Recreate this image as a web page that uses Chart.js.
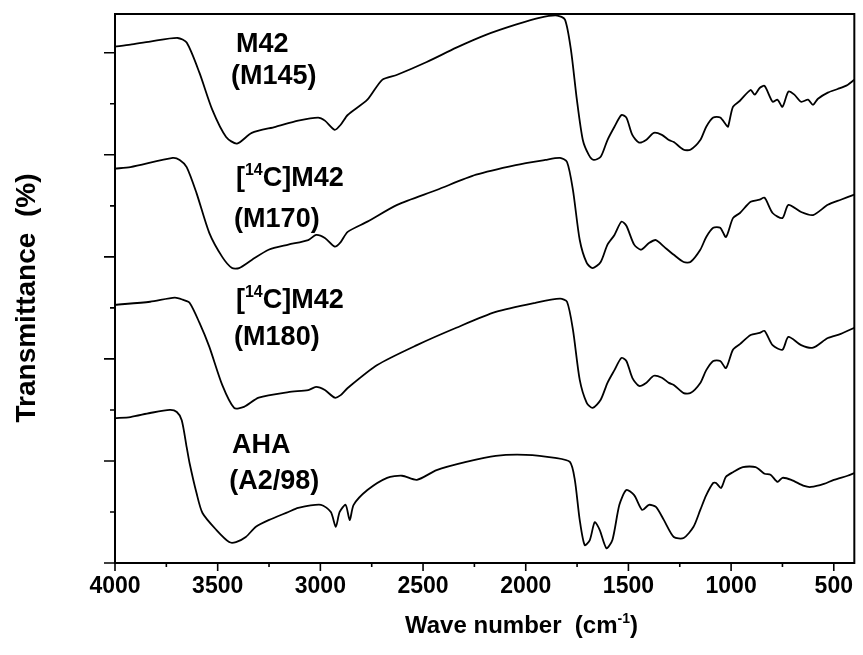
<!DOCTYPE html>
<html>
<head>
<meta charset="utf-8">
<script src="https://cdn.jsdelivr.net/npm/chart.js@4.4.1/dist/chart.umd.min.js"></script>
<style>
    html, body { margin: 0; padding: 0; background: #fff; }
    #wrap { width: 863px; height: 655px; }
</style>
</head>
<body>
<div id="wrap"><canvas id="irChart" width="863" height="655"></canvas></div>
<script>
// axis ticks
const xTickLabels = [4000, 3500, 3000, 2500, 2000, 1500, 1000, 500];
const xMinorTicks = [3750, 3250, 2750, 2250, 1750, 1250, 750];
const yMajorTicks = [0, 20, 40, 60, 80, 100];
const yMinorTicks = [10, 30, 50, 70, 90];

// M42 (M145)
const m145Wave = [4000, 3925, 3829, 3695, 3651, 3589, 3526, 3459, 3406, 3334, 3218, 3108, 3011, 2978, 2930, 2901, 2867, 2771, 2699, 2626, 2482, 2338, 2194, 2049, 1929, 1847, 1809, 1780, 1751, 1722, 1693, 1669, 1635, 1602, 1568, 1534, 1510, 1481, 1448, 1414, 1376, 1337, 1303, 1279, 1231, 1198, 1150, 1121, 1087, 1053, 1025, 1015, 991, 957, 905, 885, 861, 837, 798, 774, 750, 721, 692, 659, 625, 601, 577, 529, 481, 433, 400];
const m145T = [101.2, 101.6, 102.2, 102.9, 102.0, 96.1, 88.8, 83.5, 82.2, 84.3, 85.5, 86.7, 87.3, 86.7, 84.9, 85.9, 87.8, 90.8, 94.7, 95.7, 98.2, 101.0, 103.5, 105.5, 106.9, 107.3, 106.5, 100.6, 90.8, 82.9, 80.0, 79.0, 79.6, 82.9, 85.5, 87.8, 87.3, 83.9, 82.4, 82.9, 84.3, 83.9, 82.9, 82.5, 81.0, 81.0, 82.9, 85.5, 87.3, 87.3, 85.9, 85.5, 89.4, 90.6, 92.7, 91.8, 93.1, 93.5, 90.4, 90.8, 89.4, 92.4, 91.8, 90.4, 90.8, 89.8, 91.0, 92.2, 92.9, 93.7, 94.7];

// [14C]M42 (M170)
const m170Wave = [4000, 3925, 3719, 3685, 3651, 3603, 3541, 3478, 3430, 3396, 3334, 3252, 3156, 3059, 3021, 2978, 2930, 2901, 2867, 2771, 2626, 2434, 2242, 2049, 1905, 1833, 1799, 1770, 1737, 1703, 1674, 1635, 1602, 1568, 1534, 1510, 1472, 1438, 1400, 1366, 1327, 1279, 1231, 1198, 1150, 1121, 1087, 1053, 1025, 991, 957, 905, 861, 837, 798, 750, 721, 659, 601, 529, 466, 400];
const m170T = [77.3, 77.6, 79.4, 79.0, 77.6, 72.5, 64.7, 60.0, 57.8, 57.8, 59.4, 61.4, 62.4, 63.3, 64.3, 63.7, 62.0, 62.9, 64.9, 66.9, 70.2, 73.1, 76.1, 78.0, 79.0, 79.4, 78.6, 73.1, 63.3, 58.8, 57.8, 59.0, 62.4, 64.3, 66.9, 66.1, 62.4, 61.4, 62.7, 63.3, 62.0, 60.4, 59.0, 59.0, 61.4, 63.9, 65.7, 65.7, 63.9, 67.6, 68.6, 70.8, 71.2, 71.6, 68.6, 67.6, 70.2, 68.8, 68.2, 70.2, 71.2, 72.2];

// [14C]M42 (M180)
const m180Wave = [4000, 3829, 3709, 3670, 3637, 3589, 3541, 3478, 3420, 3372, 3300, 3156, 3059, 3021, 2978, 2930, 2901, 2867, 2723, 2530, 2338, 2146, 1953, 1833, 1799, 1770, 1737, 1703, 1674, 1635, 1602, 1568, 1534, 1510, 1481, 1448, 1414, 1376, 1337, 1303, 1279, 1231, 1198, 1150, 1121, 1087, 1053, 1025, 991, 957, 905, 861, 837, 798, 750, 721, 659, 601, 529, 466, 400];
const m180T = [50.6, 51.2, 52.0, 51.6, 51.0, 47.1, 42.4, 34.9, 30.4, 30.6, 32.4, 33.5, 33.9, 34.5, 33.9, 32.4, 32.9, 34.3, 38.8, 42.7, 46.1, 49.2, 51.0, 51.8, 51.2, 45.7, 35.9, 31.4, 30.4, 32.0, 35.3, 37.8, 40.2, 39.6, 36.3, 34.7, 35.3, 36.7, 36.3, 35.3, 34.9, 33.3, 33.3, 35.3, 37.8, 39.6, 39.6, 38.2, 41.8, 42.9, 44.7, 45.1, 45.5, 42.7, 41.8, 44.3, 42.7, 42.2, 44.1, 44.9, 46.1];

// AHA (A2/98)
const ahaWave = [4000, 3925, 3829, 3733, 3699, 3675, 3651, 3637, 3603, 3574, 3507, 3444, 3411, 3363, 3314, 3252, 3156, 3108, 2997, 2949, 2925, 2906, 2877, 2857, 2838, 2771, 2675, 2602, 2530, 2434, 2290, 2146, 2001, 1857, 1785, 1761, 1737, 1713, 1688, 1664, 1640, 1607, 1578, 1544, 1510, 1472, 1433, 1400, 1366, 1327, 1279, 1231, 1183, 1150, 1121, 1087, 1073, 1049, 1025, 991, 943, 881, 837, 808, 774, 750, 707, 644, 611, 548, 500, 433, 400];
const ahaT = [28.4, 28.6, 29.4, 30.0, 29.6, 28.0, 22.7, 19.6, 13.7, 9.8, 6.5, 4.1, 4.1, 5.1, 7.1, 8.4, 10.0, 10.8, 11.4, 10.0, 7.1, 10.0, 11.4, 8.4, 11.4, 14.3, 16.7, 17.1, 16.3, 18.2, 19.8, 21.0, 21.2, 20.6, 19.8, 16.3, 8.4, 3.5, 4.5, 8.0, 6.5, 2.9, 4.5, 11.4, 14.3, 13.3, 10.4, 11.4, 11.0, 8.4, 5.1, 4.9, 7.1, 10.4, 13.3, 15.7, 15.7, 14.7, 16.9, 17.8, 18.8, 18.8, 17.5, 17.3, 15.9, 16.7, 16.3, 15.1, 14.9, 15.5, 16.3, 17.1, 17.6];

// sample names, each line is a list of [text, superscript?]
const sampleNames = [
    [[['M42', false]], [['(M145)', false]]],
    [[['[', false], ['14', true], ['C]M42', false]], [['(M170)', false]]],
    [[['[', false], ['14', true], ['C]M42', false]], [['(M180)', false]]],
    [[['AHA', false]], [['(A2/98)', false]]]
];
// anchor of each name line: [wave number, transmittance] of the left baseline
const nameAnchors = [
    [[3411, 100.2], [3435, 93.9]],
    [[3411, 73.9], [3420, 65.9]],
    [[3411, 50.0], [3420, 42.7]],
    [[3430, 21.6], [3444, 14.5]]
];

const FONT = '"Liberation Sans", Arial, Helvetica, sans-serif';

function toPoints(wave, values) {
    return wave.map((w, i) => ({ x: w, y: values[i] }));
}

function spectrum(wave, values) {
    return {
        data: toPoints(wave, values),
        borderColor: '#000',
        borderWidth: 1.8,
        pointRadius: 0,
        tension: 0.25,
        fill: false
    };
}

function drawRich(ctx, parts, x, y, size) {
    let cx = x;
    for (const [text, sup] of parts) {
        const s = sup ? Math.round(size * 0.58) : size;
        ctx.font = `bold ${s}px ${FONT}`;
        ctx.fillText(text, cx, sup ? y - size * 0.42 : y);
        cx += ctx.measureText(text).width;
    }
}

const framePlugin = {
    id: 'frame',
    afterDraw(chart) {
        const { ctx, chartArea: a, scales: { x, y } } = chart;
        ctx.save();
        ctx.strokeStyle = '#000';
        ctx.lineWidth = 2;
        ctx.strokeRect(a.left, a.top, a.right - a.left, a.bottom - a.top);

        ctx.lineWidth = 1.6;
        ctx.beginPath();
        for (const v of xTickLabels) {
            const px = x.getPixelForValue(v);
            ctx.moveTo(px, a.bottom);
            ctx.lineTo(px, a.bottom + 8);
        }
        for (const v of xMinorTicks) {
            const px = x.getPixelForValue(v);
            ctx.moveTo(px, a.bottom);
            ctx.lineTo(px, a.bottom + 4);
        }
        for (const v of yMajorTicks) {
            const py = y.getPixelForValue(v);
            ctx.moveTo(a.left, py);
            ctx.lineTo(a.left - 11, py);
        }
        for (const v of yMinorTicks) {
            const py = y.getPixelForValue(v);
            ctx.moveTo(a.left, py);
            ctx.lineTo(a.left - 5, py);
        }
        ctx.stroke();

        ctx.fillStyle = '#000';
        ctx.textAlign = 'left';
        ctx.textBaseline = 'alphabetic';

        // sample names
        sampleNames.forEach((lines, i) => {
            lines.forEach((parts, j) => {
                const [w, t] = nameAnchors[i][j];
                drawRich(ctx, parts, x.getPixelForValue(w), y.getPixelForValue(t), 27);
            });
        });

        // axis titles
        drawRich(ctx, [['Wave number  (cm', false], ['-1', true], [')', false]], 405, 633, 24);

        ctx.translate(35, 298);
        ctx.rotate(-Math.PI / 2);
        ctx.textAlign = 'center';
        ctx.font = `bold 28px ${FONT}`;
        ctx.fillText('Transmittance  (%)', 0, 0);
        ctx.restore();
    }
};

const ctx = document.getElementById('irChart').getContext('2d');
new Chart(ctx, {
    type: 'line',
    data: {
        datasets: [
            spectrum(m145Wave, m145T),
            spectrum(m170Wave, m170T),
            spectrum(m180Wave, m180T),
            spectrum(ahaWave, ahaT)
        ]
    },
    options: {
        responsive: false,
        animation: false,
        devicePixelRatio: 1,
        layout: { padding: { top: 14, right: 1, left: 0, bottom: 0 } },
        plugins: {
            legend: { display: false },
            tooltip: { enabled: false }
        },
        scales: {
            x: {
                type: 'linear',
                reverse: true,
                min: 400,
                max: 4000,
                afterFit(scale) { scale.height = 92; },
                afterBuildTicks(scale) { scale.ticks = xTickLabels.map(v => ({ value: v })); },
                grid: { display: false, drawTicks: false },
                border: { display: false },
                ticks: {
                    autoSkip: false,
                    maxRotation: 0,
                    padding: 10,
                    color: '#000',
                    font: { family: FONT, size: 23, weight: 'bold' },
                    callback: v => String(v)
                }
            },
            y: {
                type: 'linear',
                min: 0,
                max: 107.6,
                afterFit(scale) { scale.width = 115; },
                grid: { display: false, drawTicks: false },
                border: { display: false },
                ticks: { display: false }
            }
        }
    },
    plugins: [framePlugin]
});
</script>
</body>
</html>
